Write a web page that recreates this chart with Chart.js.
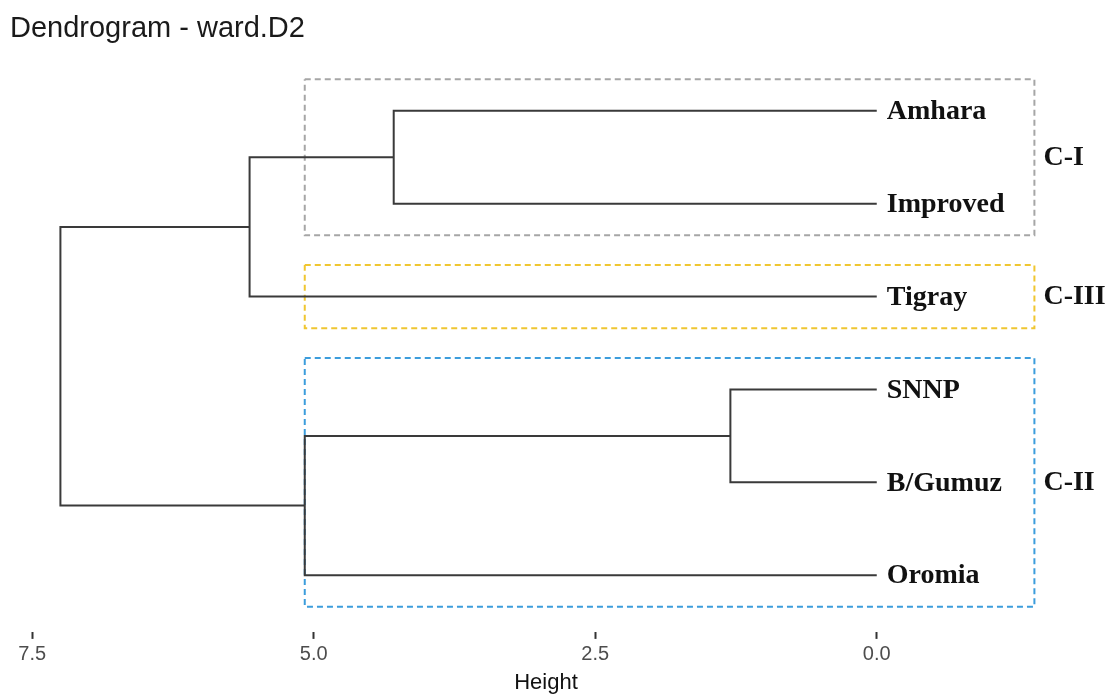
<!DOCTYPE html>
<html>
<head>
<meta charset="utf-8">
<script src="https://cdn.jsdelivr.net/npm/chart.js@4"></script>
<style>
  html, body { margin: 0; padding: 0; background: #ffffff; }
  #wrap { width: 1112px; height: 694px; position: relative; }
</style>
</head>
<body>
<div id="wrap"><canvas id="c" width="1112" height="694"></canvas></div>
<script>
// ---- data ----
const chartTitle = 'Dendrogram - ward.D2';
const axisTitle = 'Height';
const leafLabels = ['Amhara', 'Improved', 'Tigray', 'SNNP', 'B/Gumuz', 'Oromia'];
// hclust-style merge table: negative = leaf (1-based, in display order), positive = earlier merge
const mergeLeft = [-1, 1, -4, 3, 2];
const mergeRight = [-2, -3, -5, -6, 4];
const mergeHeight = [4.29, 5.57, 1.30, 5.08, 7.25];
const clusterLabels = ['C-I', 'C-III', 'C-II'];
const clusterFirstLeaf = [1, 3, 4];
const clusterLastLeaf = [2, 3, 6];
const clusterColors = ['#a6a6a6', '#f0c630', '#3c9ddc'];
const xTickValues = [7.5, 5.0, 2.5, 0.0];
const rectLeftHeight = 5.08;
const rectRightHeight = -1.40;
const rectHalfSpan = 0.34;

// ---- build datasets from the merge table ----
const nodeY = [];
function child(c) {
  return c < 0 ? { h: 0, y: -c } : { h: mergeHeight[c - 1], y: nodeY[c - 1] };
}
const datasets = [];
for (let i = 0; i < mergeHeight.length; i++) {
  const a = child(mergeLeft[i]);
  const b = child(mergeRight[i]);
  nodeY[i] = (a.y + b.y) / 2;
  const H = mergeHeight[i];
  datasets.push({
    data: [{ x: a.h, y: a.y }, { x: H, y: a.y }, { x: H, y: b.y }, { x: b.h, y: b.y }],
    borderColor: '#3a3a3a',
    borderWidth: 2,
    order: 1
  });
}
for (let k = 0; k < clusterLabels.length; k++) {
  const t = clusterFirstLeaf[k] - rectHalfSpan;
  const bt = clusterLastLeaf[k] + rectHalfSpan;
  datasets.push({
    data: [
      { x: rectLeftHeight, y: t }, { x: rectRightHeight, y: t },
      { x: rectRightHeight, y: bt }, { x: rectLeftHeight, y: bt },
      { x: rectLeftHeight, y: t }
    ],
    borderColor: clusterColors[k],
    borderWidth: 2,
    borderDash: [6, 4],
    order: 2
  });
}

const textPlugin = {
  id: 'dendroText',
  afterDatasetsDraw(chart) {
    const ctx = chart.ctx;
    const xs = chart.scales.x, ys = chart.scales.y;
    ctx.save();
    // chart title
    ctx.fillStyle = '#1a1a1a';
    ctx.font = '29px "Liberation Sans", Arial, sans-serif';
    ctx.textAlign = 'left';
    ctx.textBaseline = 'alphabetic';
    ctx.fillText(chartTitle, 10, 37);
    // leaf labels
    ctx.fillStyle = '#111111';
    ctx.font = 'bold 28px "Liberation Serif", "Times New Roman", serif';
    ctx.textBaseline = 'middle';
    leafLabels.forEach((lab, i) => {
      ctx.fillText(lab, xs.getPixelForValue(0) + 10, ys.getPixelForValue(i + 1) + 1);
    });
    // cluster labels
    ctx.font = 'bold 28px "Liberation Serif", "Times New Roman", serif';
    clusterLabels.forEach((lab, k) => {
      const mid = (clusterFirstLeaf[k] + clusterLastLeaf[k]) / 2;
      ctx.fillText(lab, xs.getPixelForValue(rectRightHeight) + 9, ys.getPixelForValue(mid));
    });
    ctx.restore();
  }
};

new Chart(document.getElementById('c'), {
  type: 'scatter',
  data: { datasets },
  options: {
    responsive: false,
    animation: false,
    showLine: true,
    elements: {
      point: { radius: 0, hoverRadius: 0 },
      line: { tension: 0, borderJoinStyle: 'miter', borderCapStyle: 'butt', fill: false }
    },
    layout: { padding: { left: 21, right: 41, top: 55, bottom: 0 } },
    plugins: { legend: { display: false }, tooltip: { enabled: false }, title: { display: false } },
    scales: {
      x: {
        type: 'linear',
        reverse: true,
        min: -1.725,
        max: 7.6,
        afterBuildTicks(axis) { axis.ticks = xTickValues.map(v => ({ value: v })); },
        grid: { display: true, drawOnChartArea: false, drawTicks: true, tickLength: 7, tickColor: '#333333', tickWidth: 2 },
        border: { display: false },
        ticks: {
          color: '#4d4d4d',
          font: { family: '"Liberation Sans", Arial, sans-serif', size: 20 },
          padding: 4,
          maxRotation: 0,
          callback: v => Number(v).toFixed(1)
        },
        title: {
          display: true,
          text: axisTitle,
          color: '#111111',
          font: { family: '"Liberation Sans", Arial, sans-serif', size: 22, lineHeight: 1.05 },
          padding: { top: 0, bottom: 0 }
        }
      },
      y: {
        type: 'linear',
        display: false,
        reverse: true,
        min: 0.3985,
        max: 6.61
      }
    }
  },
  plugins: [textPlugin]
});
</script>
</body>
</html>
